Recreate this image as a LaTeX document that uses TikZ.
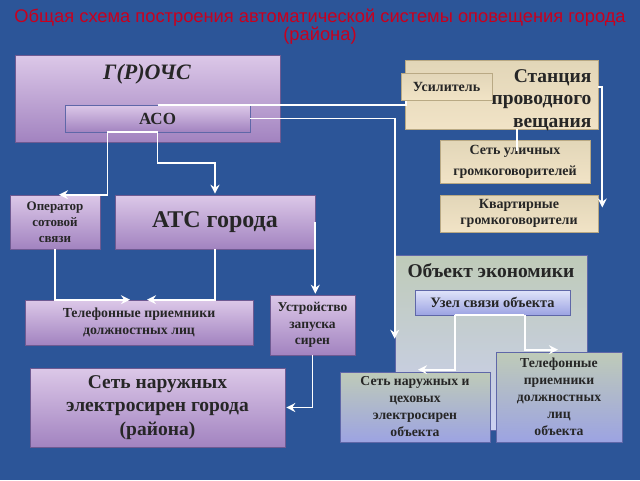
\documentclass[tikz,border=0pt]{standalone}
\usepackage{fontspec}
\setmainfont{Liberation Serif}
\newfontfamily\titlefont{Liberation Sans}
\usetikzlibrary{arrows.meta,positioning,calc}
\definecolor{bgColor}{HTML}{2C5598}
\definecolor{titleColor}{HTML}{C8001E}
\definecolor{lilacTop}{HTML}{DCC8E8}
\definecolor{lilacBot}{HTML}{A283C0}
\definecolor{lilacDraw}{HTML}{6E5A92}
\definecolor{sandTop}{HTML}{E2D6B8}
\definecolor{sandMid}{HTML}{FBF2E0}
\definecolor{sandBot}{HTML}{F1E3C6}
\definecolor{sandDraw}{HTML}{B9A984}
\definecolor{objTop}{HTML}{BFCBB8}
\definecolor{objMid}{HTML}{E0E4FA}
\definecolor{objBot}{HTML}{CBD0F2}
\definecolor{nodeBot}{HTML}{9CA3E2}
\definecolor{nodeDraw}{HTML}{5F67A8}
\newcommand{\fs}[2]{\fontsize{#1}{#2}\selectfont\bfseries}
\tikzset{
	purplebox/.style={draw=lilacDraw, line width=0.6pt, top color=lilacTop, bottom color=lilacBot, align=center, inner sep=1pt, text=black!85},
	sandbox/.style={draw=sandDraw, line width=0.6pt, top color=sandTop, middle color=sandMid, bottom color=sandBot, align=center, inner sep=1pt, text=black!85},
	objbox/.style={draw=nodeDraw, line width=0.6pt, top color=objTop, middle color=objMid, bottom color=nodeBot, align=center, inner sep=1pt, text=black!85},
	wire/.style={line width=1.9pt}
}

\begin{document}
\begin{tikzpicture}[x=1pt,y=-1pt,->,>={Stealth[length=9pt,width=9pt,inset=3pt]},shorten >=1pt,white]
	\fill[bgColor] (0,0) rectangle (640,480);
	\node[titleColor, align=center, font=\titlefont\fontsize{18.3}{18}\selectfont] (title) at (320,27) {Общая схема построения автоматической системы оповещения города\\(района)};
	% левая часть
	\node[purplebox, minimum width=265, minimum height=87] (grochs) at (147.5,98.5) {};
	\node[black!85, font=\fs{22}{24}\itshape] (grochs_t) at (147,74) {Г(Р)ОЧС};
	\node[purplebox, draw=nodeDraw, minimum width=185, minimum height=27, font=\fs{17}{17}] (aso) at (157.5,118.5) {АСО};
	\node[purplebox, minimum width=90, minimum height=54, font=\fs{13}{16}] (oper) at (55,222) {Оператор\\сотовой\\связи};
	\node[purplebox, minimum width=200, minimum height=54, font=\fs{24}{26}] (ats) at (215,222) {АТС города};
	\node[purplebox, minimum width=228, minimum height=45, font=\fs{13.8}{17}] (telef) at (139,322.5) {Телефонные приемники\\должностных лиц};
	\node[purplebox, minimum width=85, minimum height=60, font=\fs{13.5}{16.5}] (ustr) at (312.5,325) {Устройство\\запуска\\сирен};
	\node[purplebox, minimum width=255, minimum height=79, font=\fs{19.5}{23.5}] (sirens) at (157.5,407.5) {Сеть наружных\\электросирен города\\(района)};
	% проводное вещание
	\node[sandbox, minimum width=193, minimum height=69] (stan) at (501.5,94.5) {};
	\node[black!85, anchor=east, align=right, font=\fs{19.5}{22.5}] (stan_t) at (595,100) {Станция\\проводного\\вещания};
	\node[sandbox, minimum width=91, minimum height=27, font=\fs{14}{14}] (usil) at (446.5,86.5) {Усилитель};
	\node[sandbox, minimum width=150, minimum height=43, font=\fs{14}{21}] (ulic) at (515,161.5) {Сеть уличных\\громкоговорителей};
	\node[sandbox, minimum width=158, minimum height=37, font=\fs{14}{16.5}] (kvart) at (519,213.5) {Квартирные\\громкоговорители};
	% объект экономики
	\node[draw=nodeDraw, line width=0.6pt, top color=objTop, middle color=objMid, bottom color=objBot, minimum width=192, minimum height=175] (obj) at (491,342.5) {};
	\node[black!85, font=\fs{19.5}{20}] (obj_t) at (491,271) {Объект экономики};
	\node[objbox, top color=objMid, minimum width=155, minimum height=25, font=\fs{14.4}{15}] (uzel) at (492.5,302.5) {Узел связи объекта};
	\node[objbox, minimum width=150, minimum height=70, font=\fs{13.7}{17}] (objsir) at (415,407) {Сеть наружных и\\цеховых\\электросирен\\объекта};
	\node[objbox, minimum width=126, minimum height=90, font=\fs{13.7}{17}] (objtel) at (559,397) {Телефонные\\приемники\\должностных\\лиц\\объекта};
	% связи
	\draw[wire,-] (aso.north) -| ([xshift=5pt]usil.south west);
	\draw[wire] (aso.east) -| ([yshift=-85pt]obj.north west);
	\draw[wire] (aso.south) -- ++(0,31) -| (ats.north);
	\draw[wire] (aso.south) -- ++(-50,0) |- ([xshift=3pt]oper.north);
	\draw[wire] (oper.south) |- ([xshift=-8pt]telef.north);
	\draw[wire] (ats.south) |- ([xshift=7pt]telef.north);
	\draw[wire] (ats.east) -- (ats.east |- ustr.north);
	\draw[wire] (ustr.south) |- (sirens.east);
	\draw[wire] ([yshift=7.5pt]stan.east) -| ([xshift=4pt,yshift=5pt]kvart.east);
	\draw[wire,-] ([xshift=15.5pt]stan.south) -- ([xshift=2pt,yshift=-12pt]ulic.north);
	\draw[wire,-] ([xshift=-37.5pt]uzel.south) -- ([xshift=32.5pt]uzel.south);
	\draw[wire] ([xshift=-37.5pt]uzel.south) |- ([xshift=2pt,yshift=2pt]objsir.north);
	\draw[wire] ([xshift=32.5pt]uzel.south) |- ([yshift=2pt]objtel.north);
\end{tikzpicture}
\end{document}
